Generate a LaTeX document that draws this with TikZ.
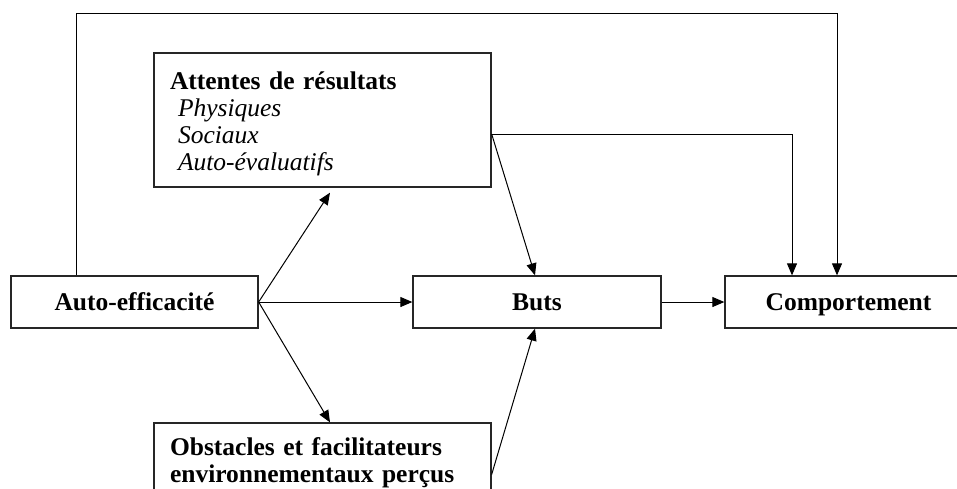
\documentclass[tikz,border=0pt]{standalone}
\usepackage{fontspec}
\setmainfont{Liberation Serif}
\usetikzlibrary{arrows.meta,calc}
\begin{document}
\begin{tikzpicture}[x=1pt,y=-1pt,
  box/.style={draw=black!85, line width=1.3pt, rectangle, inner sep=0pt,
    font=\fontsize{25.5}{27}\selectfont\bfseries},
  onebox/.style={box, minimum height=52pt, text height=17pt, text depth=0pt},
  arr/.style={draw=black, line width=1pt, -{Triangle[length=12pt,width=10pt]}}]
\useasboundingbox (0,0) rectangle (957,488);
\clip (0,0) rectangle (957,488);

% boxes
\node[box, minimum width=337pt, minimum height=134pt, text width=305pt, align=left]
  (att) at (322.5,120)
  {\rule{0pt}{25.5pt}Attentes de résultats\\
   \mdseries\itshape\hspace*{8pt}Physiques\\
   \hspace*{8pt}Sociaux\\
   \hspace*{8pt}Auto-évaluatifs};
\node[onebox, minimum width=247pt] (auto) at (134.5,302) {Auto-efficacité};
\node[onebox, minimum width=248pt] (buts) at (537,302) {Buts};
\node[onebox, minimum width=247pt] (comp) at (848.5,302) {Comportement};
\node[box, minimum width=337pt, minimum height=73pt, text width=305pt, align=left]
  (obs) at (322.5,459.5)
  {\rule{0pt}{25pt}Obstacles et facilitateurs\\ environnementaux perçus};

% helper points for the routed connectors
\coordinate (loopL) at (76.5,13);
\coordinate (loopR) at (837,13);
\coordinate (attE) at ([yshift=-14pt]att.east);
\coordinate (attR) at (792,134);
\coordinate (obsE) at ([yshift=-15pt]obs.east);

% connectors
\draw[arr] (auto.north -| loopL) -- (loopL) -- (loopR) -- (comp.north -| loopR);
\draw[arr] (attE) -- (attR) -- (comp.north -| attR);
\draw[arr] (attE) -- ([xshift=-2pt]buts.north);
\draw[arr] (auto.east) -- ([xshift=7.5pt,yshift=-5pt]att.south);
\draw[arr] (auto.east) -- (buts.west);
\draw[arr] (auto.east) -- ([xshift=7.5pt]obs.north);
\draw[arr] (obsE) -- ([xshift=-2pt]buts.south);
\draw[arr] (buts.east) -- (comp.west);
\end{tikzpicture}
\end{document}
